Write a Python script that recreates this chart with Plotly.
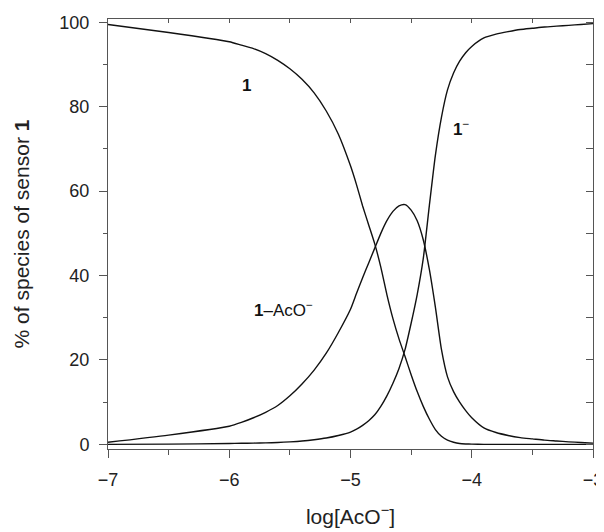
import plotly.graph_objects as go

# log[AcO-] sampling points
log_aco = [-7.0, -6.5, -6.0, -5.9, -5.8, -5.7, -5.6, -5.5, -5.4, -5.3, -5.2, -5.1,
           -5.0, -4.95, -4.9, -4.85, -4.8, -4.75, -4.7, -4.65, -4.6, -4.55, -4.5,
           -4.45, -4.4, -4.35, -4.3, -4.25, -4.2, -4.15, -4.1, -4.05, -4.0,
           -3.9, -3.8, -3.7, -3.6, -3.5, -3.4, -3.3, -3.2, -3.1, -3.0]

# % free sensor 1
free_1 = [99.5, 97.6, 95.4, 94.6, 93.8, 92.6, 91.0, 89.0, 86.5, 83.3, 79.0, 73.5,
          66.0, 61.5, 56.5, 52.0, 47.5, 42.0, 35.5, 29.8, 25.0, 20.8, 16.5,
          12.5, 9.0, 6.0, 3.5, 1.9, 1.0, 0.5, 0.2, 0.1, 0.05,
          0.0, 0.0, 0.0, 0.0, 0.0, 0.0, 0.0, 0.0, 0.0, 0.0]

# % complex 1-AcO-
complex_1 = [0.5, 2.2, 4.3, 5.2, 6.3, 7.6, 9.2, 11.5, 14.3, 17.6, 21.6, 26.5,
             32.0, 35.8, 39.5, 43.0, 46.5, 50.0, 53.0, 55.2, 56.5, 56.8, 55.5,
             53.0, 48.5, 41.5, 32.5, 22.5, 16.0, 12.5, 10.0, 8.0, 6.3,
             3.9, 2.8, 2.1, 1.6, 1.3, 1.0, 0.8, 0.6, 0.45, 0.3]

# % deprotonated 1-
anion_1 = [0.0, 0.05, 0.2, 0.25, 0.3, 0.35, 0.45, 0.6, 0.8, 1.1, 1.5, 2.1,
           2.9, 3.6, 4.5, 5.6, 7.0, 9.0, 11.5, 14.5, 18.0, 22.5, 28.7,
           35.5, 44.0, 56.5, 68.5, 77.5, 84.0, 88.0, 90.8, 92.8, 94.3,
           96.3, 97.2, 97.8, 98.3, 98.6, 98.9, 99.1, 99.3, 99.5, 99.7]

FONT = "Liberation Sans, Arial, sans-serif"
AXIS_COLOR = "#555"

fig = go.Figure()
for ys in (free_1, complex_1, anion_1):
    fig.add_trace(go.Scatter(x=log_aco, y=ys, mode="lines",
                             line=dict(color="#111", width=1.4, shape="spline", smoothing=0.6),
                             showlegend=False, hoverinfo="skip"))

# invisible trace so the mirrored top/right axes are drawn
fig.add_trace(go.Scatter(x=[-7], y=[0], xaxis="x2", yaxis="y2", mode="markers",
                         marker=dict(opacity=0), showlegend=False, hoverinfo="skip"))

labels = [(-5.86, 85, "<b>1</b>"),
          (-4.09, 75, "<b>1</b><sup>−</sup>"),
          (-5.55, 32, "<b>1</b>–AcO<sup>−</sup>")]
for lx, ly, txt in labels:
    fig.add_annotation(x=lx, y=ly, text=txt, showarrow=False,
                       font=dict(family=FONT, size=17, color="#111"))

# page body adds an 8px offset, so the figure is 8px smaller than the window
fig.update_layout(
    width=596, height=524,
    margin=dict(l=100, r=11, t=11, b=83),
    plot_bgcolor="white", paper_bgcolor="white",
    font=dict(family=FONT, size=18, color="#222"),
    xaxis=dict(range=[-7, -3], tickmode="linear", tick0=-7, dtick=1,
               ticks="outside", ticklen=8, tickcolor=AXIS_COLOR, ticklabelstandoff=6,
               minor=dict(dtick=0.5, ticks="outside", ticklen=5, tickcolor=AXIS_COLOR),
               showline=True, linecolor=AXIS_COLOR, showgrid=False, zeroline=False,
               automargin=False, tickformat="d",
               title=dict(text="log[AcO<sup>−</sup>]", font=dict(size=21), standoff=20)),
    xaxis2=dict(range=[-7, -3], overlaying="x", side="top", tickmode="linear", tick0=-7,
                dtick=0.5, ticks="inside", ticklen=4, tickcolor=AXIS_COLOR,
                showticklabels=False, showline=True, linecolor=AXIS_COLOR,
                showgrid=False, zeroline=False, automargin=False),
    yaxis=dict(range=[-1.1, 100.8], tickmode="linear", tick0=0, dtick=20,
               ticks="outside", ticklen=8, tickcolor=AXIS_COLOR, ticklabelstandoff=6,
               minor=dict(dtick=10, ticks="outside", ticklen=4, tickcolor=AXIS_COLOR),
               showline=True, linecolor=AXIS_COLOR, showgrid=False, zeroline=False,
               automargin=False,
               title=dict(text="% of species of sensor <b>1</b>", font=dict(size=21), standoff=24)),
    yaxis2=dict(range=[-1.1, 100.8], overlaying="y", side="right", tickmode="linear", tick0=0,
                dtick=10, ticks="inside", ticklen=7, tickcolor=AXIS_COLOR,
                showticklabels=False, showline=True, linecolor=AXIS_COLOR,
                showgrid=False, zeroline=False, automargin=False),
)

fig.write_html("out.html")
